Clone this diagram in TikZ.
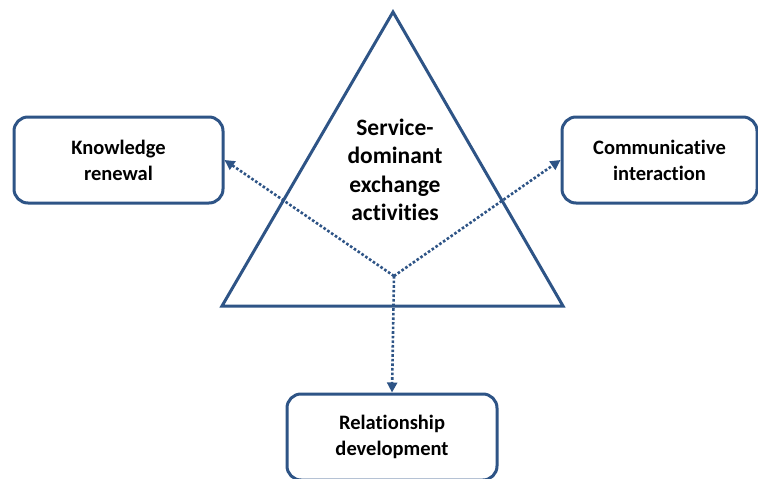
\documentclass[tikz,border=0pt]{standalone}
\usepackage{fontspec}
\setmainfont{Carlito}[Ligatures={NoCommon}]
\usetikzlibrary{arrows.meta}
\definecolor{dblue}{RGB}{46,84,134}
\tikzset{
  box/.style={draw=dblue, line width=3pt, rounded corners=14pt, fill=white,
    align=center, font=\bfseries\fontsize{20.5}{26}\selectfont, minimum height=86pt, inner sep=0pt},
  link/.style={draw=dblue, line width=2.6pt, dotted, -{Triangle[length=10pt,width=10pt]}}
}
\begin{document}
\begin{tikzpicture}[x=1pt,y=-1pt]
\useasboundingbox (0,0) rectangle (758,479);
\coordinate (apex) at (393,12);
\coordinate (bl) at (222,306);
\coordinate (br) at (563,306);
\draw[dblue, line width=3pt, line join=miter] (apex) -- (bl) -- (br) -- cycle;
\node[align=center, font=\bfseries\fontsize{23.5}{28.5}\selectfont] (tri) at (395,170)
  {Service-\\dominant\\exchange\\activities};
\node[box, minimum width=209pt] (kr) at (118.5,160) {Knowledge\\renewal};
\node[box, minimum width=195pt] (ci) at (659.5,160) {Communicative\\interaction};
\node[box, minimum width=210pt] (rd) at (392,437) {Relationship\\development};
\coordinate (j) at (394,276);
\draw[link] (j) -- (kr.east);
\draw[link] (j) -- (ci.west);
\draw[link] (j) -- (rd.north);
\end{tikzpicture}
\end{document}
